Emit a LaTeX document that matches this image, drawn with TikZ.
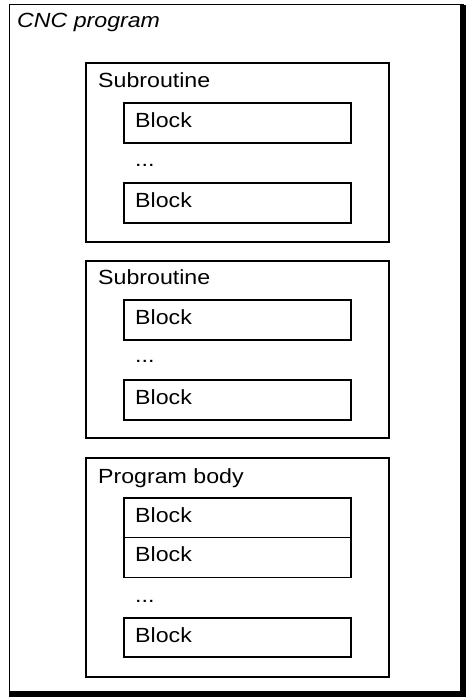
\documentclass[tikz,border=0pt]{standalone}
\usepackage{fontspec}
\setmainfont{Liberation Sans}[FakeStretch=1.13]

\tikzset{
  frame/.style={draw, line width=1.5pt, anchor=north west, inner sep=0pt, outer sep=0pt, minimum width=453.5pt, minimum height=689.3pt},
  group/.style={draw, line width=1.6pt, anchor=north west, inner sep=0pt, outer sep=0pt, minimum width=303pt},
  blockbox/.style={draw, line width=1.6pt, anchor=north west, inner sep=0pt, outer sep=0pt, minimum width=227pt, minimum height=40pt},
  txt/.style={anchor=base west, inner sep=0pt, font=\fontsize{20.5}{24}\selectfont},
}

\begin{document}
\begin{tikzpicture}[x=1pt,y=-1pt]
\useasboundingbox (0,0) rectangle (466,697);

% outer frame with heavy right and bottom edge
\node[frame] (prog) at (9.5,4.7) {};
\draw[line width=6pt] ([yshift=-0.75pt]prog.north east)--(prog.south east)--([xshift=-0.75pt]prog.south west);
\node[txt, xshift=7.5pt, yshift=-22.5pt] (progtitle) at (prog.north west) {\itshape CNC program};

% first subroutine
\node[group, minimum height=179pt] (sub1) at (86,63) {};
\node[txt, xshift=12pt, yshift=-24pt] (sub1title) at (sub1.north west) {Subroutine};
\node[blockbox] (s1b1) at (124,103) {};
\node[txt, xshift=11pt, yshift=-24pt] at (s1b1.north west) {Block};
\node[txt, xshift=11pt, yshift=-23pt] (s1dots) at (s1b1.south west) {...};
\node[blockbox] (s1b2) at (124,183) {};
\node[txt, xshift=11pt, yshift=-24pt] at (s1b2.north west) {Block};

% second subroutine
\node[group, minimum height=177pt] (sub2) at (86,261) {};
\node[txt, xshift=12pt, yshift=-23pt] (sub2title) at (sub2.north west) {Subroutine};
\node[blockbox] (s2b1) at (124,300) {};
\node[txt, xshift=11pt, yshift=-24pt] at (s2b1.north west) {Block};
\node[txt, xshift=11pt, yshift=-22pt] (s2dots) at (s2b1.south west) {...};
\node[blockbox] (s2b2) at (124,380) {};
\node[txt, xshift=11pt, yshift=-24pt] at (s2b2.north west) {Block};

% program body
\node[group, minimum height=219pt] (body) at (86,458) {};
\node[txt, xshift=12pt, yshift=-25pt] (bodytitle) at (body.north west) {Program body};
\node[blockbox, minimum height=39.5pt] (bb1) at (124,498) {};
\node[txt, xshift=11pt, yshift=-24pt] at (bb1.north west) {Block};
\node[blockbox] (bb2) at (bb1.south west) {};
\node[txt, xshift=11pt, yshift=-24pt] at (bb2.north west) {Block};
\node[txt, xshift=11pt, yshift=-25pt] (bdots) at (bb2.south west) {...};
\node[blockbox, minimum height=39pt] (bb3) at (124,618) {};
\node[txt, xshift=11pt, yshift=-24pt] at (bb3.north west) {Block};
\end{tikzpicture}
\end{document}
